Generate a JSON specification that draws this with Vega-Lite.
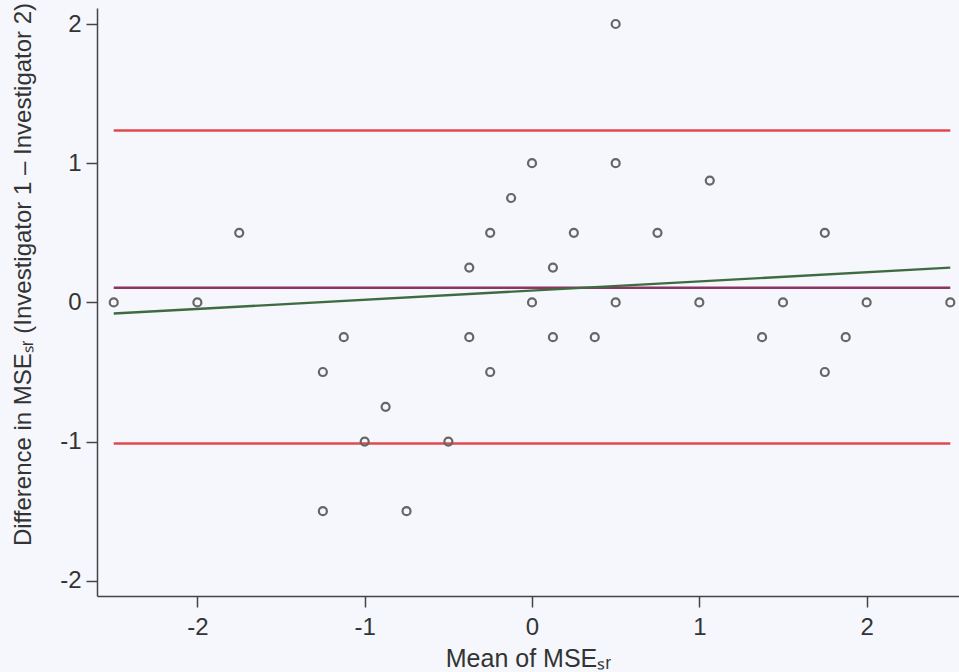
{
  "$schema": "https://vega.github.io/schema/vega-lite/v6.json",
  "width": 862,
  "height": 588,
  "autosize": {"type": "none"},
  "padding": {"left": 97, "top": 8, "right": 0, "bottom": 76},
  "background": "#f5f7fc",
  "config": {
    "view": {"stroke": null},
    "font": "Liberation Sans",
    "axis": {
      "grid": false,
      "domainColor": "#444444",
      "domainWidth": 1.5,
      "tickColor": "#444444",
      "tickWidth": 1.5,
      "tickSize": 11,
      "labelFont": "Liberation Sans",
      "labelFontSize": 24,
      "labelColor": "#333333",
      "titleFont": "Liberation Sans",
      "titleFontSize": 24,
      "titleFontWeight": "normal",
      "titleColor": "#333333"
    }
  },
  "datasets": {
    "points": [
      {"mean": -2.5, "diff": 0}, {"mean": -2, "diff": 0}, {"mean": -1.75, "diff": 0.5},
      {"mean": -1.25, "diff": -0.5}, {"mean": -1.125, "diff": -0.25}, {"mean": -1, "diff": -1},
      {"mean": -0.875, "diff": -0.75}, {"mean": -1.25, "diff": -1.5}, {"mean": -0.75, "diff": -1.5},
      {"mean": -0.5, "diff": -1}, {"mean": -0.375, "diff": -0.25}, {"mean": -0.375, "diff": 0.25},
      {"mean": -0.25, "diff": -0.5}, {"mean": -0.25, "diff": 0.5}, {"mean": -0.125, "diff": 0.75},
      {"mean": 0, "diff": 1}, {"mean": 0, "diff": 0}, {"mean": 0.125, "diff": 0.25},
      {"mean": 0.125, "diff": -0.25}, {"mean": 0.25, "diff": 0.5}, {"mean": 0.375, "diff": -0.25},
      {"mean": 0.5, "diff": 2}, {"mean": 0.5, "diff": 1}, {"mean": 0.5, "diff": 0},
      {"mean": 0.75, "diff": 0.5}, {"mean": 1, "diff": 0}, {"mean": 1.0625, "diff": 0.875},
      {"mean": 1.375, "diff": -0.25}, {"mean": 1.5, "diff": 0}, {"mean": 1.75, "diff": 0.5},
      {"mean": 1.75, "diff": -0.5}, {"mean": 1.875, "diff": -0.25}, {"mean": 2, "diff": 0},
      {"mean": 2.5, "diff": 0}
    ],
    "lines": [
      {"series": "upper", "mean": -2.5, "diff": 1.235},
      {"series": "upper", "mean": 2.5, "diff": 1.235},
      {"series": "lower", "mean": -2.5, "diff": -1.013},
      {"series": "lower", "mean": 2.5, "diff": -1.013},
      {"series": "bias", "mean": -2.5, "diff": 0.105},
      {"series": "bias", "mean": 2.5, "diff": 0.105},
      {"series": "regression", "mean": -2.5, "diff": -0.08},
      {"series": "regression", "mean": 2.5, "diff": 0.25}
    ]
  },
  "layer": [
    {
      "mark": {"type": "rule", "color": "#444444", "strokeWidth": 1.5},
      "encoding": {"y": {"datum": 2.115, "type": "quantitative"}}
    },
    {
      "mark": {"type": "rule", "color": "#8fae45", "strokeWidth": 2.2},
      "encoding": {"y": {"datum": 0, "type": "quantitative"}}
    },
    {
      "data": {"name": "lines"},
      "mark": {"type": "line", "strokeWidth": 2.4},
      "encoding": {
        "x": {"field": "mean", "type": "quantitative"},
        "y": {"field": "diff", "type": "quantitative"},
        "detail": {"field": "series"},
        "color": {
          "field": "series",
          "type": "nominal",
          "scale": {
            "domain": ["upper", "lower", "bias", "regression"],
            "range": ["#e2484e", "#e2484e", "#8e3463", "#3f6b40"]
          },
          "legend": null
        }
      }
    },
    {
      "data": {"name": "points"},
      "mark": {"type": "point", "shape": "circle", "filled": false, "size": 64, "stroke": "#666666", "strokeWidth": 2.2, "opacity": 1},
      "encoding": {
        "x": {
          "field": "mean",
          "type": "quantitative",
          "scale": {"domain": [-2.6, 2.552], "nice": false, "zero": false},
          "axis": {"values": [-2, -1, 0, 1, 2], "labelExpr": "'' + datum.value", "labelPadding": 8, "titlePadding": 7, "titleFontSize": 25},
          "title": "Mean of MSEₛᵣ"
        },
        "y": {
          "field": "diff",
          "type": "quantitative",
          "scale": {"domain": [-2.109, 2.115], "nice": false, "zero": false},
          "axis": {"values": [-2, -1, 0, 1, 2], "labelExpr": "'' + datum.value", "labelPadding": 5, "titlePadding": 24, "titleFontSize": 24, "titleY": 266},
          "title": "Difference in MSEₛᵣ (Investigator 1 – Investigator 2)"
        }
      }
    }
  ]
}
